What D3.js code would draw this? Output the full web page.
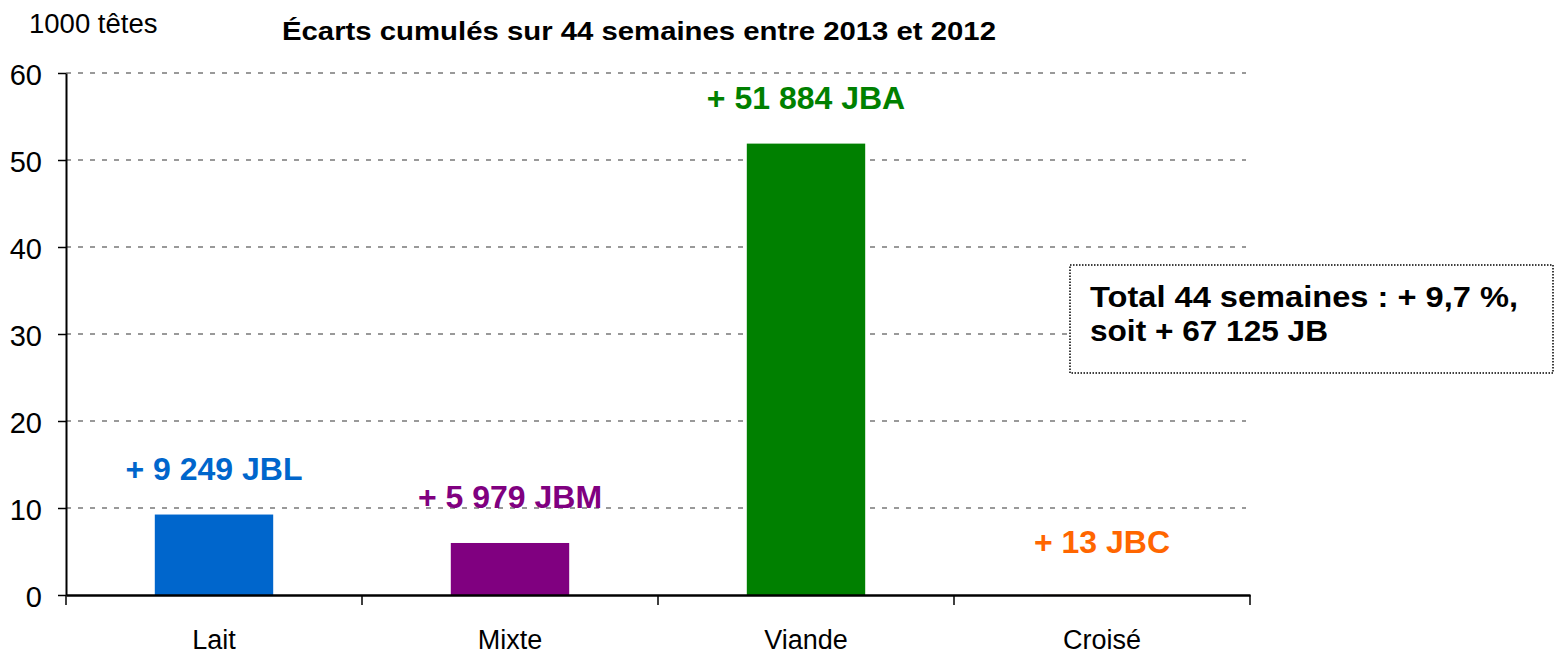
<!DOCTYPE html>
<html>
<head>
<meta charset="utf-8">
<script src="https://cdn.jsdelivr.net/npm/d3@7"></script>
<style>
  html, body { margin: 0; padding: 0; background: #fff; }
  svg { display: block; font-family: "Liberation Sans", Arial, sans-serif; }
</style>
</head>
<body>
<svg id="chart" width="1555" height="654"></svg>
<script>
const categories = ["Lait", "Mixte", "Viande", "Croisé"];
const values = [9.249, 5.979, 51.884, 0.013];
const valueLabels = ["+ 9 249 JBL", "+ 5 979 JBM", "+ 51 884 JBA", "+ 13 JBC"];
const barColors = ["#0066CC", "#800080", "#008000", "#FF6600"];
const yTicks = [0, 10, 20, 30, 40, 50, 60];
const titleText = "Écarts cumulés sur 44 semaines entre 2013 et 2012";
const unitText = "1000 têtes";
const noteLines = ["Total 44 semaines : + 9,7 %,", "soit + 67 125 JB"];

(function () {
const svg = d3.select("#chart");
const mLeft = 66, mRight = 1250, mTop = 73, mBottom = 595;

const x = d3.scaleBand().domain(categories).range([mLeft, mRight]).padding(0);
const y = d3.scaleLinear().domain([0, 60]).range([mBottom, mTop]);

// gridlines
svg.append("g").selectAll("line").data(yTicks.filter(d => d > 0)).join("line")
  .attr("x1", mLeft).attr("x2", mRight - 4)
  .attr("y1", d => y(d)).attr("y2", d => y(d))
  .attr("stroke", "#999").attr("stroke-width", 2)
  .attr("stroke-dasharray", "5,7");

// bars
const bw = x.bandwidth() * 0.4;
svg.append("g").selectAll("rect").data(values).join("rect")
  .attr("x", (d, i) => x(categories[i]) + (x.bandwidth() - bw) / 2)
  .attr("width", bw)
  .attr("y", d => y(d))
  .attr("height", d => y(0) - y(d))
  .attr("fill", (d, i) => barColors[i]);

// y axis
const yAxis = svg.append("g").attr("transform", `translate(${mLeft},0)`)
  .call(d3.axisLeft(y).tickValues(yTicks).tickSize(8).tickPadding(16).tickSizeOuter(0));
yAxis.select(".domain").attr("stroke", "#000").attr("stroke-width", 2);
yAxis.selectAll(".tick line").attr("stroke", "#000").attr("stroke-width", 1.5);
yAxis.selectAll(".tick text").attr("font-size", 29).attr("fill", "#000")
  .attr("dy", "0.4em").style("font-family", '"Liberation Sans", Arial, sans-serif');

// x axis
const xAxis = svg.append("g").attr("transform", `translate(0,${mBottom})`)
  .call(d3.axisBottom(x).tickSize(0).tickPadding(35).tickSizeOuter(0));
xAxis.select(".domain").attr("stroke", "#000").attr("stroke-width", 2.5);
xAxis.selectAll(".tick text").attr("font-size", 27).attr("fill", "#000")
  .style("font-family", '"Liberation Sans", Arial, sans-serif');
const boundaries = categories.map(c => x(c)).concat([x.range()[1]]);
xAxis.selectAll("line.bnd").data(boundaries).join("line").attr("class", "bnd")
  .attr("x1", d => d).attr("x2", d => d).attr("y1", 0).attr("y2", 10)
  .attr("stroke", "#000").attr("stroke-width", 1.5);

// value labels
svg.append("g").selectAll("text").data(values).join("text")
  .attr("x", (d, i) => x(categories[i]) + x.bandwidth() / 2)
  .attr("y", (d, i) => y(d) - (d < 1 ? 42 : 35))
  .attr("text-anchor", "middle")
  .attr("font-size", 32).attr("font-weight", "bold")
  .attr("fill", (d, i) => barColors[i])
  .text((d, i) => valueLabels[i]);

// unit
svg.append("text").attr("x", 29).attr("y", 33)
  .attr("font-size", 27.5).attr("fill", "#000").text(unitText);

// title
svg.append("text").attr("x", 282).attr("y", 40)
  .attr("font-size", 26).attr("font-weight", "bold").attr("fill", "#000")
  .attr("textLength", 714).attr("lengthAdjust", "spacingAndGlyphs")
  .text(titleText);

// note box
svg.append("rect").attr("x", 1070).attr("y", 265).attr("width", 483).attr("height", 108)
  .attr("fill", "#fff").attr("stroke", "#000").attr("stroke-width", 1.5)
  .attr("stroke-dasharray", "1.5,1.5");
const noteWidths = [428, 238];
svg.append("g").selectAll("text").data(noteLines).join("text")
  .attr("x", 1090).attr("y", (d, i) => 307 + i * 34)
  .attr("font-size", 30).attr("font-weight", "bold").attr("fill", "#000")
  .attr("textLength", (d, i) => noteWidths[i]).attr("lengthAdjust", "spacingAndGlyphs")
  .text(d => d);
})();
</script>
</body>
</html>
